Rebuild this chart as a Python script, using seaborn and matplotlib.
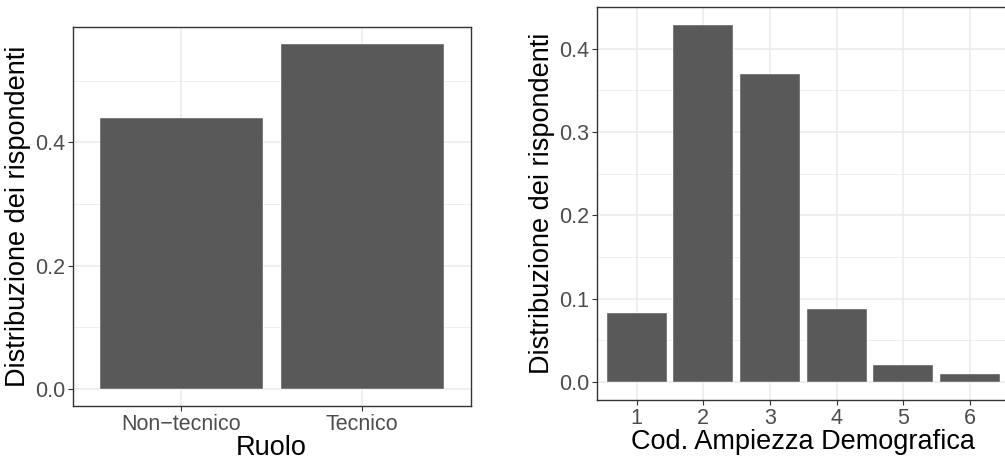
import numpy as np
import pandas as pd
import matplotlib
matplotlib.use("Agg")
import matplotlib.pyplot as plt
from matplotlib.ticker import FixedLocator, FormatStrFormatter
import seaborn as sns

# Data
RUOLO = ["Non\u2212tecnico", "Tecnico"]
RUOLO_SHARE = [0.44, 0.56]

AMPIEZZA = ["1", "2", "3", "4", "5", "6"]
AMPIEZZA_SHARE = [0.083, 0.429, 0.370, 0.088, 0.020, 0.010]

BAR_COLOR = "#595959"
GRID_COLOR = "#EBEBEB"
BORDER_COLOR = "#333333"
TICK_COLOR = "#4D4D4D"

sns.set_theme(style="white")
plt.rcParams["font.family"] = ["Liberation Sans", "DejaVu Sans"]


def style_axes(ax, major, minor, xlabel):
    ax.set_facecolor("white")
    ax.yaxis.set_major_locator(FixedLocator(major))
    ax.yaxis.set_minor_locator(FixedLocator(minor))
    ax.yaxis.set_major_formatter(FormatStrFormatter("%.1f"))
    ax.grid(True, which="major", color=GRID_COLOR, linewidth=1.1)
    ax.grid(True, which="minor", axis="y", color=GRID_COLOR, linewidth=0.55)
    ax.set_axisbelow(True)
    for s in ax.spines.values():
        s.set_visible(True)
        s.set_color(BORDER_COLOR)
        s.set_linewidth(1.0)
    ax.tick_params(axis="both", which="major", length=3.5, width=0.8,
                   color=BORDER_COLOR, labelcolor=TICK_COLOR,
                   labelsize=15.5, pad=2, left=True, bottom=True)
    ax.tick_params(axis="y", which="minor", length=0)
    ax.set_xlabel(xlabel, fontsize=19.5, color="black", labelpad=0)
    ax.set_ylabel("Distribuzione dei rispondenti", fontsize=19.5,
                  color="black", labelpad=3)


fig = plt.figure(figsize=(10.05, 4.61), dpi=100)
ax1 = fig.add_axes([0.0723, 0.1193, 0.396, 0.8228])
ax2 = fig.add_axes([0.5937, 0.1323, 0.4113, 0.8532])

df1 = pd.DataFrame({"Ruolo": RUOLO, "share": RUOLO_SHARE})
sns.barplot(data=df1, x="Ruolo", y="share", color=BAR_COLOR, width=0.9,
            saturation=1, ax=ax1)
ax1.set_xlim(-0.6, 1.6)
ax1.set_ylim(-0.028, 0.588)
style_axes(ax1, [0.0, 0.2, 0.4], [0.1, 0.3, 0.5], "Ruolo")

df2 = pd.DataFrame({"cod": AMPIEZZA, "share": AMPIEZZA_SHARE})
sns.barplot(data=df2, x="cod", y="share", color=BAR_COLOR, width=0.9,
            saturation=1, ax=ax2)
ax2.set_xlim(-0.6, 5.6)
ax2.set_ylim(-0.0215, 0.4505)
style_axes(ax2, [0.0, 0.1, 0.2, 0.3, 0.4], [0.05, 0.15, 0.25, 0.35],
           "Cod. Ampiezza Demografica")

for ax in (ax1, ax2):
    for p in ax.patches:
        p.set_edgecolor("white")
        p.set_linewidth(0.3)

fig.savefig("out.png", dpi=100)
